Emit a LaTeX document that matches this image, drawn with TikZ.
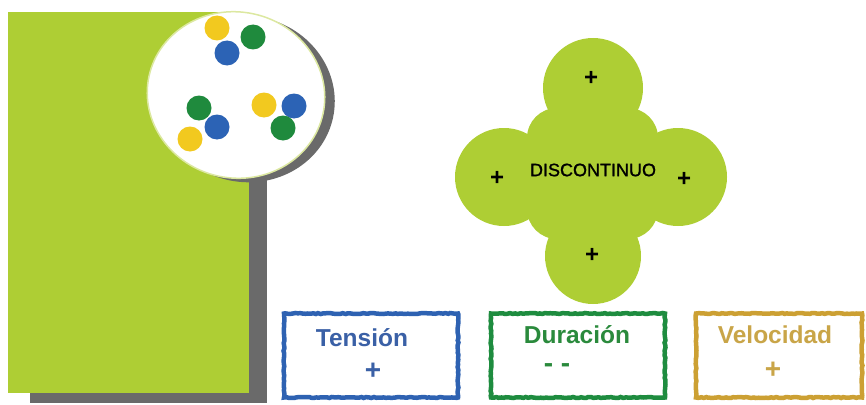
\documentclass[tikz,border=0pt]{standalone}
\usepackage{fontspec}
\setmainfont{Liberation Sans}
\newfontfamily\semibold[FakeBold=1.2]{Liberation Sans}
\usetikzlibrary{decorations.pathmorphing}

\definecolor{leaf}{HTML}{AECE34}
\definecolor{shadowgray}{HTML}{6A6A6A}
\definecolor{rim}{HTML}{DCE8A0}
\definecolor{dotyellow}{HTML}{F2C91F}
\definecolor{dotgreen}{HTML}{1F8A3D}
\definecolor{dotblue}{HTML}{2C63B5}
\definecolor{frameblue}{HTML}{2E62B2}
\definecolor{framegreen}{HTML}{1E8C3F}
\definecolor{framegold}{HTML}{CCA033}
\definecolor{textblue}{HTML}{3A60A6}
\definecolor{textgreen}{HTML}{2A8A3C}
\definecolor{textgold}{HTML}{C9A548}

\tikzset{
  dot/.style={circle, inner sep=0pt, minimum size=25pt},
  framebox/.style={draw=#1, line width=4.5pt, fill=white, inner sep=0pt,
    decoration={random steps, segment length=2.5pt, amplitude=0.5pt}, decorate},
  boxtitle/.style={font=\bfseries\fontsize{24.5}{26}\selectfont, anchor=base, inner sep=0pt},
  boxsign/.style={font=\bfseries\fontsize{28}{30}\selectfont, inner sep=0pt},
  lobesign/.style={font=\bfseries\fontsize{24}{26}\selectfont, inner sep=0pt, text=black},
}

\begin{document}
\begin{tikzpicture}[x=1pt, y=-1pt]
\useasboundingbox (0,0) rectangle (866,404);

% green panel with its drop shadow
\fill[shadowgray] (30,30) rectangle (267,403);
\fill[leaf] (8,12) rectangle (249,393);

% round window with its shadow
\fill[shadowgray, rotate around={-12:(246,99)}] (246,99) ellipse [x radius=89pt, y radius=83pt];
\filldraw[fill=white, draw=rim, line width=1.5pt, rotate around={-12:(236,95)}]
  (236,95) ellipse [x radius=89pt, y radius=83pt];

% particles inside the window
\node[dot, fill=dotyellow] (p1) at (217,28) {};
\node[dot, fill=dotgreen]  (p2) at (253,37) {};
\node[dot, fill=dotblue]   (p3) at (227,53) {};
\node[dot, fill=dotgreen]  (p4) at (199,108) {};
\node[dot, fill=dotblue]   (p5) at (217,127) {};
\node[dot, fill=dotyellow] (p6) at (190,139) {};
\node[dot, fill=dotyellow] (p7) at (264,105) {};
\node[dot, fill=dotblue]   (p8) at (294,106) {};
\node[dot, fill=dotgreen]  (p9) at (283,128) {};

% four-lobed shape: rounded body plus four lobes
\fill[leaf, rounded corners=30pt] (527,108) rectangle (658,239);
\fill[leaf] (593,88) circle [radius=50pt];
\fill[leaf] (504,177) circle [radius=49pt];
\fill[leaf] (678,177) circle [radius=49pt];
\fill[leaf] (593,256) circle [radius=48pt];

\node[font=\semibold\fontsize{18}{20}\selectfont, inner sep=0pt] (disc) at (593,170) {DISCONTINUO};
\node[lobesign] (st) at (591,78) {+};
\node[lobesign] (sl) at (497,178) {+};
\node[lobesign] (sr) at (684,179) {+};
\node[lobesign] (sb) at (592,255) {+};

% three framed boxes
\node[framebox=frameblue, minimum width=174pt, minimum height=84pt] (tension) at (371,355.5) {};
\node[framebox=framegreen, minimum width=174pt, minimum height=84pt] (duracion) at (578,355.5) {};
\node[framebox=framegold, minimum width=166pt, minimum height=84pt] (velocidad) at (779,355.5) {};

\node[boxtitle, text=textblue] (t1) at (362,346) {Tensión};
\node[boxsign, text=textblue] (t2) at (373,371) {+};
\node[boxtitle, text=textgreen] (d1) at (577,343) {Duración};
\node[boxsign, text=textgreen] (d2) at (557,368) {- -};
\node[boxtitle, text=textgold] (v1) at (775,343) {Velocidad};
\node[boxsign, text=textgold] (v2) at (773,370) {+};
\end{tikzpicture}
\end{document}
